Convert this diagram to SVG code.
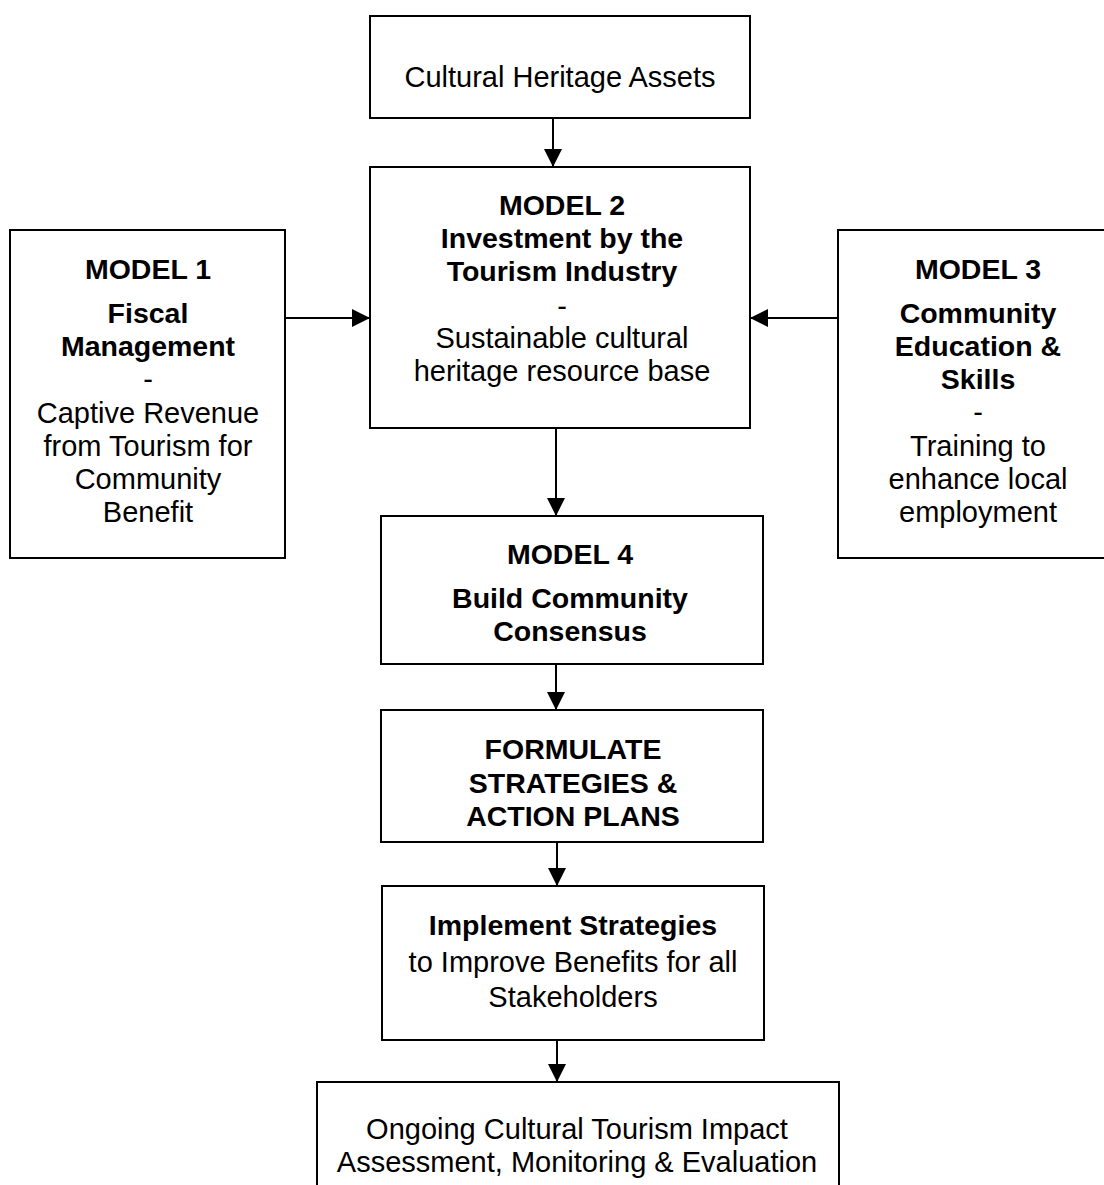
<svg xmlns="http://www.w3.org/2000/svg" width="1104" height="1185" viewBox="0 0 1104 1185">
  <style>
    .box { fill: #ffffff; stroke: #000000; stroke-width: 2; }
    .link { stroke: #000000; stroke-width: 2; fill: none; }
    text { font-family: "Liberation Sans", Arial, sans-serif; font-size: 29px; fill: #000000; text-anchor: middle; }
    .b { font-weight: bold; font-size: 28.5px; }
  </style>
  <defs>
    <marker id="arrow" markerUnits="userSpaceOnUse" markerWidth="20" markerHeight="20" refX="18" refY="9" orient="auto">
      <path d="M0,0 L18,9 L0,18 Z" fill="#000000"/>
    </marker>
  </defs>
  <rect width="1104" height="1185" fill="#ffffff"/>

  <g id="connectors">
    <line class="link" x1="553" y1="118" x2="553" y2="167" marker-end="url(#arrow)"/>
    <line class="link" x1="285" y1="318" x2="370" y2="318" marker-end="url(#arrow)"/>
    <line class="link" x1="838" y1="318" x2="750" y2="318" marker-end="url(#arrow)"/>
    <line class="link" x1="556" y1="428" x2="556" y2="516" marker-end="url(#arrow)"/>
    <line class="link" x1="556" y1="664" x2="556" y2="710" marker-end="url(#arrow)"/>
    <line class="link" x1="557" y1="842" x2="557" y2="886" marker-end="url(#arrow)"/>
    <line class="link" x1="557" y1="1040" x2="557" y2="1082" marker-end="url(#arrow)"/>
  </g>

  <g id="heritage-assets">
    <rect class="box" x="370" y="16" width="380" height="102"/>
    <text x="560" y="87">Cultural Heritage Assets</text>
  </g>

  <g id="model-2">
    <rect class="box" x="370" y="167" width="380" height="261"/>
    <text class="b" x="562" y="215">MODEL 2</text>
    <text class="b" x="562" y="248">Investment by the</text>
    <text class="b" x="562" y="281">Tourism Industry</text>
    <text x="562" y="316">-</text>
    <text x="562" y="348">Sustainable cultural</text>
    <text x="562" y="381">heritage resource base</text>
  </g>

  <g id="model-1">
    <rect class="box" x="10" y="230" width="275" height="328"/>
    <text class="b" x="148" y="279">MODEL 1</text>
    <text class="b" x="148" y="323">Fiscal</text>
    <text class="b" x="148" y="356">Management</text>
    <text x="148" y="389">-</text>
    <text x="148" y="423">Captive Revenue</text>
    <text x="148" y="456">from Tourism for</text>
    <text x="148" y="489">Community</text>
    <text x="148" y="522">Benefit</text>
  </g>

  <g id="model-3">
    <rect class="box" x="838" y="230" width="280" height="328"/>
    <text class="b" x="978" y="279">MODEL 3</text>
    <text class="b" x="978" y="323">Community</text>
    <text class="b" x="978" y="356">Education &amp;</text>
    <text class="b" x="978" y="389">Skills</text>
    <text x="978" y="422">-</text>
    <text x="978" y="456">Training to</text>
    <text x="978" y="489">enhance local</text>
    <text x="978" y="522">employment</text>
  </g>

  <g id="model-4">
    <rect class="box" x="381" y="516" width="382" height="148"/>
    <text class="b" x="570" y="564">MODEL 4</text>
    <text class="b" x="570" y="608">Build Community</text>
    <text class="b" x="570" y="641">Consensus</text>
  </g>

  <g id="formulate">
    <rect class="box" x="381" y="710" width="382" height="132"/>
    <text class="b" x="573" y="759">FORMULATE</text>
    <text class="b" x="573" y="793">STRATEGIES &amp;</text>
    <text class="b" x="573" y="826">ACTION PLANS</text>
  </g>

  <g id="implement">
    <rect class="box" x="382" y="886" width="382" height="154"/>
    <text class="b" x="573" y="935">Implement Strategies</text>
    <text x="573" y="972">to Improve Benefits for all</text>
    <text x="573" y="1007">Stakeholders</text>
  </g>

  <g id="ongoing">
    <rect class="box" x="317" y="1082" width="522" height="110"/>
    <text x="577" y="1139">Ongoing Cultural Tourism Impact</text>
    <text x="577" y="1172">Assessment, Monitoring &amp; Evaluation</text>
  </g>
</svg>
